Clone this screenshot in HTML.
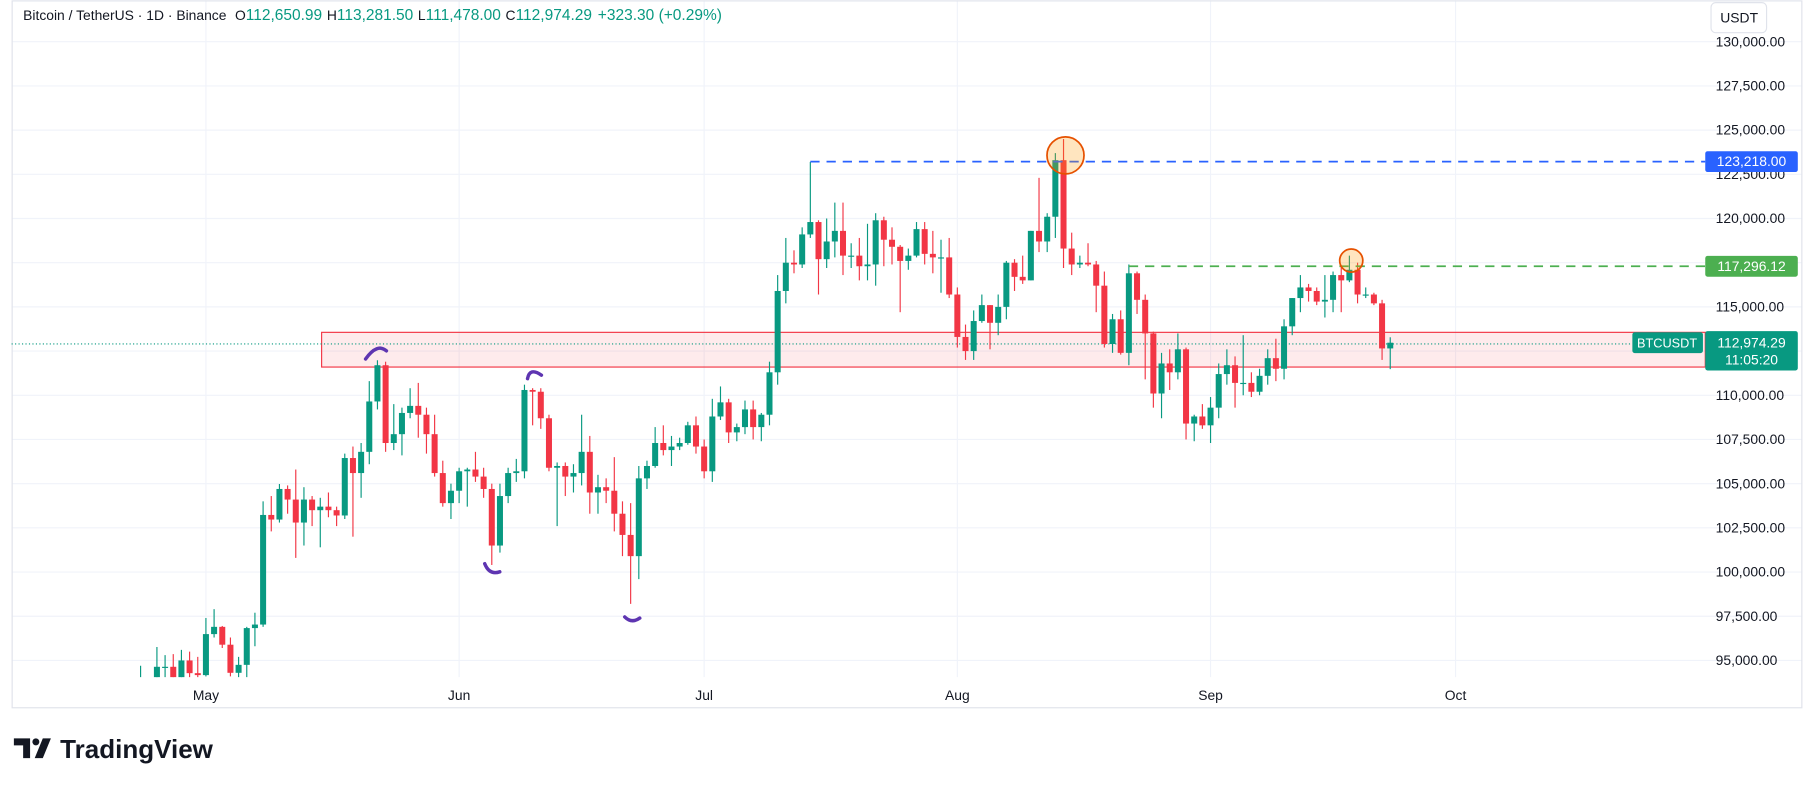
<!DOCTYPE html>
<html><head><meta charset="utf-8"><style>
html,body{margin:0;padding:0;background:#fff;}
svg{display:block;font-family:"Liberation Sans",sans-serif;}
</style></head><body>
<svg id="chart" width="1814" height="785" viewBox="0 0 1568 678" xmlns="http://www.w3.org/2000/svg">
<defs><clipPath id="pane"><rect x="10" y="0" width="1464" height="585"/></clipPath></defs>
<rect x="0" y="0" width="1568" height="678" fill="#fff"/>
<g id="grid"></g>
<rect x="10.5" y="0.5" width="1547" height="611" fill="none" stroke="#e0e3eb" stroke-width="1"/>
<rect x="278" y="287" width="1196" height="30" fill="rgba(242,54,69,0.1)" stroke="#f23645" stroke-width="1"/>
<line x1="10" y1="297" x2="1410" y2="297" stroke="#089981" stroke-width="1" stroke-dasharray="1,2"/>
<g id="candles" clip-path="url(#pane)"></g>
<g id="yaxis"></g>
<g id="overlays"></g>
<text x="20" y="17" font-size="12" fill="#131722">Bitcoin / TetherUS · 1D · Binance <tspan dx="4">O</tspan><tspan fill="#089981" font-size="13.4">112,650.99</tspan><tspan dx="4">H</tspan><tspan fill="#089981" font-size="13.4">113,281.50</tspan><tspan dx="4">L</tspan><tspan fill="#089981" font-size="13.4">111,478.00</tspan><tspan dx="4">C</tspan><tspan fill="#089981" font-size="13.4">112,974.29</tspan><tspan dx="5" fill="#089981" font-size="13.4">+323.30 (+0.29%)</tspan></text>
<rect x="1479" y="2" width="48" height="26" rx="4" fill="#fff" stroke="#e0e3eb"/>
<text x="1487" y="19" font-size="12" fill="#131722">USDT</text>
<g id="xaxis"></g>
<g>
<path d="M12 638 h14 v17 h-6 v-11 h-8 z" fill="#131722"/>
<circle cx="31" cy="641" r="3" fill="#131722"/>
<path d="M30 655 l7 -17 h7 l-7 17 z" fill="#131722"/>
<text x="52" y="655" font-size="22.5" font-weight="bold" fill="#131722">TradingView</text>
</g>
</svg>
<script>
const startDay = -8;
const opens = [93440,93700,93980,94640,94640,93750,95000,94280,94170,96490,96900,95890,94300,94750,96830,97030,103230,102970,104700,104100,102800,104100,103500,103700,103500,103200,106450,105600,106800,109650,111700,107300,107800,109000,109400,108900,107800,105600,103900,104600,105700,105800,105400,104700,101500,104300,105600,105700,110300,110200,108700,105900,106000,105400,105600,106800,104500,104800,104600,103300,102100,100900,105300,106000,107300,106900,107100,107300,108300,107100,105700,108800,109600,107900,108200,109200,108200,108900,111300,115900,117500,117400,119100,119800,117700,118700,119300,117900,117900,117300,117400,119900,118800,118400,117600,117900,119400,118000,117800,117800,115700,113300,112500,114200,115100,114100,115000,117500,116700,116500,119300,118700,120100,123300,118300,117400,117500,117400,116200,112900,114300,112400,116900,115400,113500,110100,111800,111300,112600,108400,108800,108300,109300,111200,111700,110700,110700,110200,111100,112100,111500,113900,115500,116100,115900,115300,115400,116800,116500,117100,115700,115700,115200,112650];
const highs = [94700,94000,95760,95300,95360,95600,95500,95200,97400,97900,96950,96300,95200,96900,97700,104000,104300,104980,104900,105800,104800,104300,104200,104500,103700,106700,107100,107300,110800,111980,111900,109500,109300,110400,110700,109300,108900,106300,105000,105900,105900,106800,105900,105000,105000,105900,106400,110600,110400,110400,108900,106200,106200,106100,108900,107700,105500,105300,106500,104000,103900,106000,106300,108200,108300,107700,107600,108500,108800,107500,109800,110500,109800,108400,109700,109700,109000,111900,116800,118900,118200,119500,123200,119900,120000,120900,120900,118600,118900,119700,120300,120100,119500,118500,118300,119800,119800,119300,118800,118900,116100,114000,114800,115700,115100,115700,117600,117700,117900,119300,122300,120300,123700,124500,119200,117900,118600,117600,117000,114600,114800,117400,117000,115700,113600,112400,112600,113500,112700,108900,109500,109900,111800,112600,112200,113400,111300,111500,112600,113200,114300,115500,116800,116300,116100,116800,117000,117300,117900,117500,116100,115800,115400,113281];
const lows = [91900,92000,92860,93880,93600,92800,93900,92900,94100,96300,95700,94100,93500,93400,95800,96900,102300,102800,103300,100800,101500,102600,101400,103100,102600,103000,102000,104200,106100,109200,106800,106900,106600,108700,107600,106700,105400,103700,103000,103900,103700,105100,104200,100400,101100,103900,105100,105300,108300,108100,105700,102600,104300,104500,104900,103300,103300,103900,102300,100900,98200,99600,104700,105900,106600,106000,106900,107200,106700,105300,105100,108600,107300,107400,107800,107500,107400,108300,110600,115200,116900,117200,118900,115700,117200,117800,116800,117200,116500,116500,116200,117300,117400,114700,117100,117800,117400,116900,115800,115500,112700,112000,112000,114100,112600,113400,114300,115900,116300,116500,118100,118100,118900,117200,116800,117200,117300,114700,112700,112400,112300,111700,114600,110900,109300,108700,110300,110900,107500,107400,108100,107300,108700,110600,109300,110000,109900,110000,110600,110800,110900,113400,114700,115300,115100,114400,114700,114700,116400,115200,115500,115100,112000,111478];
const closes = [93700,93980,94640,94640,93750,95000,94280,94170,96490,96900,95890,94300,94750,96830,97030,103230,102970,104700,104100,102800,104100,103500,103700,103500,103200,106450,105600,106800,109650,111700,107300,107800,109000,109400,108900,107800,105600,103900,104600,105700,105800,105400,104700,101500,104300,105600,105700,110300,110200,108700,105900,106000,105400,105600,106800,104500,104800,104600,103300,102100,100900,105300,106000,107300,106900,107100,107300,108300,107100,105700,108800,109600,107900,108200,109200,108200,108900,111300,115900,117500,117400,119100,119800,117700,118700,119300,117900,117900,117300,117400,119900,118800,118400,117600,117900,119400,118000,117800,117800,115700,113300,112500,114200,115100,114100,115000,117500,116700,116500,119300,118700,120100,123300,118300,117400,117500,117400,116200,112900,114300,112400,116900,115400,113500,110100,111800,111300,112600,108400,108800,108300,109300,111200,111700,110700,110700,110200,111100,112100,111500,113900,115500,116100,115900,115300,115400,116800,116500,117100,115700,115700,115200,112650,112974];
const yTicks = [130000,127500,125000,122500,120000,117500,115000,112500,110000,107500,105000,102500,100000,97500,95000];
const monthLabels = ["May","Jun","Jul","Aug","Sep","Oct"];
const monthDays = [0,31,61,92,123,153];
const blueP = 123218.00, greenP = 117296.12, lastP = 112974.29;

const NS = "http://www.w3.org/2000/svg";
function yScale(p){ return 35.8 + (130000 - p) / 2500 * 38.2; }
function xScale(d){ return 178 + d * 7.06; }
function mk(tag, attrs, parent){ const e = document.createElementNS(NS, tag); for (const k in attrs) e.setAttribute(k, attrs[k]); parent.appendChild(e); return e; }
function fmt(v){ return v.toLocaleString('en-US',{minimumFractionDigits:2,maximumFractionDigits:2}); }

const grid = document.getElementById('grid');
const yaxis = document.getElementById('yaxis');
yTicks.forEach(t => {
  const y = yScale(t);
  const gl = mk('line', {x1:10, x2:1558, y1:y, y2:y, stroke:'#f0f3fa', 'stroke-width':1}, grid);
  
  
  if (Math.abs(t - greenP) < 600 || Math.abs(t - lastP) < 900) return;
  const tx = mk('text', {x:1483, y:y+4, 'font-size':12, fill:'#131722'}, yaxis);
  tx.textContent = fmt(t);
  
  
});
const xaxis = document.getElementById('xaxis');
monthLabels.forEach((m, i) => {
  const x = xScale(monthDays[i]);
  const gl = mk('line', {x1:x, x2:x, y1:0, y2:585, stroke:'#f0f3fa', 'stroke-width':1}, grid);
  
  
  const tx = mk('text', {x:x, y:605, 'font-size':12, fill:'#131722', 'text-anchor':'middle'}, xaxis);
  tx.textContent = m;
  
  
});

const cg = document.getElementById('candles');
closes.forEach((c, i) => {
  const o = opens[i], h = highs[i], l = lows[i];
  const x = xScale(startDay + i);
  const col = c >= o ? '#089981' : '#f23645';
  const g = mk('g', {}, cg);
  
  
  mk('line', {x1:x, x2:x, y1:yScale(h), y2:yScale(l), stroke:col, 'stroke-width':1}, g);
  const top = yScale(Math.max(o, c)), bot = yScale(Math.min(o, c));
  mk('rect', {x:x-2.6, y:top, width:5.2, height:Math.max(1, bot-top), fill:col}, g);
});

const ov = document.getElementById('overlays');
function levelLine(p, fromDay, color, name){
  const y = yScale(p);
  const l = mk('line', {x1:xScale(fromDay), x2:1474, y1:y, y2:y, stroke:color, 'stroke-width':1.5, 'stroke-dasharray':'8,6'}, ov);
  
  
  const r = mk('rect', {x:1474, y:y-9, width:80, height:18, rx:2, fill:color}, ov);
  
  
  const t = mk('text', {x:1514, y:y+4, 'font-size':12, fill:'#fff', 'text-anchor':'middle'}, ov);
  t.textContent = fmt(p);
  
  
}
levelLine(blueP, 74, '#2962ff', 'resistance-line');
levelLine(greenP, 113, '#4caf50', 'lower-high-line');

const ly = yScale(lastP);
const tag = mk('rect', {x:1411, y:ly-9, width:61, height:18, rx:2, fill:'#089981'}, ov);


const tagT = mk('text', {x:1441, y:ly+4, 'font-size':11, fill:'#fff', 'text-anchor':'middle'}, ov);
tagT.textContent = 'BTCUSDT';


const lp = mk('rect', {x:1474, y:ly-10, width:80, height:34, rx:2, fill:'#089981'}, ov);


const lpT = mk('text', {x:1514, y:ly+4, 'font-size':12, fill:'#fff', 'text-anchor':'middle'}, ov);
lpT.textContent = fmt(lastP);


const cdT = mk('text', {x:1514, y:ly+19, 'font-size':12, fill:'#fff', 'text-anchor':'middle'}, ov);
cdT.textContent = '11:05:20';



const c1 = mk('circle', {cx:921, cy:134, r:16, fill:'rgba(255,152,0,0.25)', stroke:'#e65100', 'stroke-width':1.5}, ov);


const c2 = mk('circle', {cx:1168, cy:225, r:10, fill:'rgba(255,152,0,0.25)', stroke:'#e65100', 'stroke-width':1.5}, ov);



[['M316 310 Q326 296 334 303'], ['M456 327 Q458 317 468 324'], ['M419 487 Q423 497 432 494'], ['M540 533 Q546 539 553 534']].forEach(d => {
  const p = mk('path', {d:d[0], fill:'none', stroke:'#5e35b1', 'stroke-width':3, 'stroke-linecap':'round'}, ov);
  
  
});
</script>
</body></html>
